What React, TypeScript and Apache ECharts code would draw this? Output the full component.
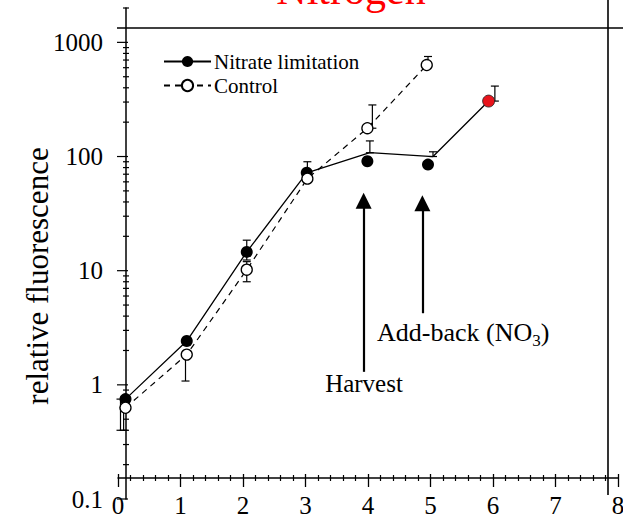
import React, { useEffect, useRef } from 'react';
import * as echarts from 'echarts';

const FONT = '"Liberation Serif", "Times New Roman", Times, serif';

// Nitrate limitation: line vertices (means) and where the filled marker is drawn on them
const nitrateDays = [0.12, 1.1, 2.06, 3.02, 4.03, 5.04, 5.93];
const nitrateValues = [0.75, 2.42, 14.6, 72, 108, 100, 306];
const nitrateMarkerOnLine = [true, true, true, true, false, false, true];
const addBackIndex = 6;
// filled markers drawn off the line (harvest / add-back samples)
const nitrateSampleDays = [3.99, 4.96];
const nitrateSampleValues = [91, 85];

// Control
const controlDays = [0.12, 1.1, 2.06, 3.03, 3.99, 4.94];
const controlValues = [0.63, 1.84, 10.2, 64, 177, 633];

// Error bars [day, low, high]
const nitrateErrDays = [0.04, 1.1, 2.06, 3.03, 4.03, 5.04, 6.03];
const nitrateErrLow = [0.4, 2.25, 12.4, 62, 108, 100, 306];
const nitrateErrHigh = [0.75, 2.6, 18.5, 90, 137, 110, 414];
const controlErrDays = [0.09, 1.08, 2.06, 4.07, 4.96];
const controlErrLow = [0.4, 1.08, 8.0, 177, 633];
const controlErrHigh = [0.63, 1.84, 12.0, 283, 752];

// Arrows (day, from, to)
const arrowDays = [3.93, 4.87];
const arrowFrom = [1.3, 4.24];
const arrowTo = [41, 39];

// y-axis tick values
const yDecades = [0.1, 1, 10, 100, 1000];
const yMinorMultipliers = [2, 3, 4, 5, 6, 7, 8, 9];
const yMax = 2000;

const Y_SHIFT = 8;

export default function App() {
  const ref = useRef<HTMLDivElement>(null);
  useEffect(() => {
    document.body.style.margin = '0';
    if (!ref.current) return;
    const chart = echarts.init(ref.current, undefined, { renderer: 'svg' });

    const yTicks: number[][] = [];
    yDecades.forEach((d) => {
      yTicks.push([0, d, 1]);
      yMinorMultipliers.forEach((m) => {
        const v = d * m;
        if (v <= yMax + 1e-9) yTicks.push([0, v, 0]);
      });
    });

    const errRender = (params: any, api: any) => {
      const x = api.value(0);
      const lo = api.coord([x, api.value(1)]);
      const hi = api.coord([x, api.value(2)]);
      const w = 4;
      const st = { stroke: '#000', lineWidth: 1.2 };
      return {
        type: 'group',
        children: [
          { type: 'line', shape: { x1: lo[0], y1: lo[1], x2: hi[0], y2: hi[1] }, style: st },
          { type: 'line', shape: { x1: hi[0] - w, y1: hi[1], x2: hi[0] + w, y2: hi[1] }, style: st },
          { type: 'line', shape: { x1: lo[0] - w, y1: lo[1], x2: lo[0] + w, y2: lo[1] }, style: st },
        ],
      };
    };

    const xAxisBase = {
      type: 'value',
      min: 0,
      max: 8,
      interval: 1,
      position: 'bottom',
      offset: -21,
      splitLine: { show: false },
      minorSplitLine: { show: false },
    };

    const legendText = { fontFamily: FONT, fontSize: 21, color: '#000' };

    const option: any = {
      animation: false,
      backgroundColor: '#fff',
      textStyle: { fontFamily: FONT },
      grid: { left: 118, right: 5, top: 8, bottom: 20, containLabel: false, outerBoundsMode: 'none' },
      legend: {
        data: [
          { name: 'Nitrate limitation', textStyle: legendText },
          { name: 'Control', textStyle: legendText },
        ],
        orient: 'vertical',
        left: 163,
        top: 51,
        padding: 0,
        itemWidth: 47,
        itemHeight: 14,
        itemGap: 3,
        formatter: '{t|{name}}',
        textStyle: {
          ...legendText,
          rich: { t: { fontFamily: FONT, fontSize: 21, color: '#000', padding: [0, 0, 0, -2] } },
        },
      },
      xAxis: [
        {
          ...xAxisBase,
          axisLine: { show: true, onZero: false, lineStyle: { color: '#000', width: 1.5 } },
          axisTick: { show: true, inside: false, length: 9, lineStyle: { color: '#000', width: 1.3 } },
          minorTick: { show: true, splitNumber: 5, length: 3, lineStyle: { color: '#000', width: 1.2 } },
          axisLabel: { color: '#000', fontFamily: FONT, fontSize: 25, margin: 15 },
        },
        {
          ...xAxisBase,
          axisLine: { show: false, onZero: false },
          axisTick: { show: true, inside: true, length: 4, lineStyle: { color: '#000', width: 1.3 } },
          minorTick: { show: true, splitNumber: 5, length: 3, lineStyle: { color: '#000', width: 1.2 } },
          axisLabel: { show: false },
        },
      ],
      yAxis: {
        type: 'log',
        logBase: 10,
        min: 0.1,
        max: yMax,
        position: 'left',
        offset: -Y_SHIFT,
        axisLine: { show: true, onZero: false, lineStyle: { color: '#000', width: 1.5 } },
        axisTick: { show: false },
        minorTick: { show: false },
        splitLine: { show: false },
        minorSplitLine: { show: false },
        axisLabel: {
          color: '#000',
          fontFamily: FONT,
          fontSize: 25,
          margin: 23,
          formatter: (v: number) => {
            const l = Math.log10(v);
            const r = Math.round(l);
            if (Math.abs(l - r) > 1e-6) return '';
            const p = Math.pow(10, r);
            return p < 1 ? p.toFixed(1) : String(p);
          },
        },
      },
      series: [
        {
          type: 'custom',
          name: 'yticks',
          clip: false,
          silent: true,
          data: yTicks,
          renderItem: (params: any, api: any) => {
            const p = api.coord([api.value(0), api.value(1)]);
            const x = p[0] + Y_SHIFT;
            const major = api.value(2) === 1;
            return {
              type: 'line',
              shape: { x1: major ? x - 9 : x - 3, y1: p[1], x2: major ? x + 2 : x + 3, y2: p[1] },
              style: { stroke: '#000', lineWidth: 1.2 },
            };
          },
          z: 3,
        },
        {
          type: 'custom',
          name: 'nitrateErr',
          clip: false,
          silent: true,
          data: nitrateErrDays.map((d, i) => [d, nitrateErrLow[i], nitrateErrHigh[i]]),
          renderItem: errRender,
          z: 2,
        },
        {
          type: 'custom',
          name: 'controlErr',
          clip: false,
          silent: true,
          data: controlErrDays.map((d, i) => [d, controlErrLow[i], controlErrHigh[i]]),
          renderItem: errRender,
          z: 2,
        },
        {
          type: 'line',
          name: 'Nitrate limitation',
          symbol: 'circle',
          symbolSize: 12,
          itemStyle: { color: '#000', opacity: 1 },
          lineStyle: { color: '#000', width: 1.3, type: 'solid' },
          data: nitrateDays.map((d, i) => ({
            value: [d, nitrateValues[i]],
            symbol: nitrateMarkerOnLine[i] ? 'circle' : 'none',
            itemStyle: i === addBackIndex ? { color: '#e8141c', borderColor: '#222', borderWidth: 0.8 } : undefined,
          })),
          z: 4,
        },
        {
          type: 'scatter',
          name: 'nitrateSamples',
          symbol: 'circle',
          symbolSize: 12,
          itemStyle: { color: '#000', opacity: 1 },
          data: nitrateSampleDays.map((d, i) => [d, nitrateSampleValues[i]]),
          z: 4,
        },
        {
          type: 'line',
          name: 'Control',
          symbol: 'circle',
          symbolSize: 11,
          itemStyle: { color: '#fff', borderColor: '#000', borderWidth: 1.3, opacity: 1 },
          lineStyle: { color: '#000', width: 1.2, type: [6, 5] },
          data: controlDays.map((d, i) => [d, controlValues[i]]),
          markLine: {
            silent: true,
            symbol: ['none', 'triangle'],
            symbolSize: [16, 16],
            lineStyle: { color: '#000', width: 2.2, type: 'solid' },
            itemStyle: { color: '#000' },
            label: { show: false },
            emphasis: { disabled: true },
            data: arrowDays.map((d, i) => [
              { coord: [d, arrowFrom[i]] },
              { coord: [d, arrowTo[i]] },
            ]),
          },
          z: 5,
        },
      ],
      graphic: [
        { type: 'line', shape: { x1: 117, y1: 28, x2: 623, y2: 28 }, style: { stroke: '#000', lineWidth: 1.5 } },
        { type: 'line', shape: { x1: 608, y1: 0, x2: 608, y2: 495 }, style: { stroke: '#000', lineWidth: 1.6 } },
        {
          type: 'text',
          x: 351,
          y: -10,
          style: { text: 'Nitrogen', fill: '#ff0000', fontFamily: FONT, fontSize: 42, align: 'center', verticalAlign: 'middle' },
        },
        {
          type: 'text',
          x: 37,
          y: 276,
          rotation: Math.PI / 2,
          style: { text: 'relative fluorescence', fill: '#000', fontFamily: FONT, fontSize: 31, align: 'center', verticalAlign: 'middle' },
        },
        {
          type: 'text',
          x: 364,
          y: 383,
          style: { text: 'Harvest', fill: '#000', fontFamily: FONT, fontSize: 25, align: 'center', verticalAlign: 'middle' },
        },
        {
          type: 'text',
          x: 377,
          y: 332,
          style: {
            text: 'Add-back (NO{sub|3})',
            fill: '#000',
            fontFamily: FONT,
            fontSize: 26,
            align: 'left',
            verticalAlign: 'middle',
            rich: { sub: { fontFamily: FONT, fontSize: 17, fill: '#000', padding: [16, 0, 0, 0] } },
          },
        },
      ],
    };
    chart.setOption(option);
    return () => chart.dispose();
  }, []);
  return <div ref={ref} style={{ width: 623, height: 519 }} />;
}
